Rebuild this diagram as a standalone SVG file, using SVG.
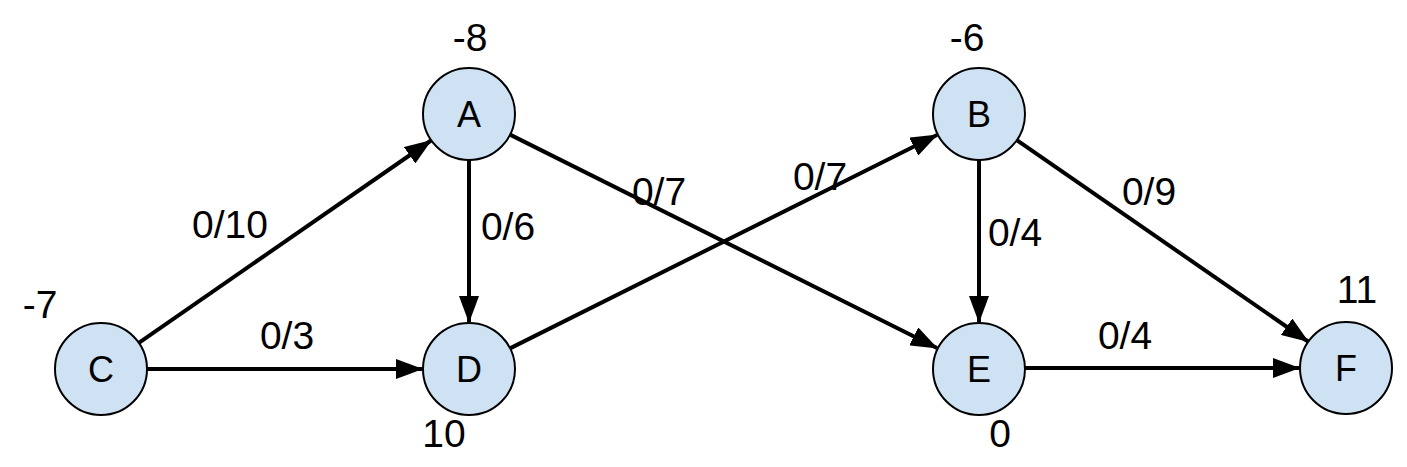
<svg xmlns="http://www.w3.org/2000/svg" width="1407" height="467" viewBox="0 0 1407 467">
<style>
.node circle{fill:#cfe2f3;stroke:#000;stroke-width:2}
.nl,.lbl{font-family:"Liberation Sans",Arial,sans-serif;fill:#000;text-anchor:middle}
.nl{font-size:36px}
.lbl{font-size:39px}
.edges line{stroke:#000;stroke-width:4;marker-end:url(#arr)}
</style>
<defs>
<marker id="arr" markerUnits="userSpaceOnUse" markerWidth="27" markerHeight="20" refX="26" refY="10" orient="auto">
<path d="M0,0 L27,10 L0,20 z" fill="#000"/>
</marker>
</defs>
<rect width="1407" height="467" fill="#fff"/>
<g class="edges" id="connectors">
<line x1="138.8" y1="342.8" x2="431" y2="140.5"/>
<line x1="147" y1="369" x2="422" y2="369"/>
<line x1="469" y1="160" x2="469" y2="322"/>
<line x1="510" y1="134.6" x2="937" y2="348"/>
<line x1="510" y1="348.4" x2="937" y2="135"/>
<line x1="979" y1="160" x2="979" y2="322"/>
<line x1="1016.8" y1="140.2" x2="1308" y2="341.5"/>
<line x1="1025" y1="368" x2="1299" y2="368"/>
</g>
<g id="edge-labels">
<text class="lbl" x="230" y="238">0/10</text>
<text class="lbl" x="287" y="349">0/3</text>
<text class="lbl" x="508" y="240">0/6</text>
<text class="lbl" x="659" y="205">0/7</text>
<text class="lbl" x="820" y="190">0/7</text>
<text class="lbl" x="1015" y="246">0/4</text>
<text class="lbl" x="1149" y="205">0/9</text>
<text class="lbl" x="1125" y="349">0/4</text>
</g>
<g class="node" id="node-A"><circle cx="469" cy="114" r="46"/><text class="nl" x="469" y="127">A</text><text class="lbl" x="470" y="51">-8</text></g>
<g class="node" id="node-B"><circle cx="979" cy="114" r="46"/><text class="nl" x="979" y="127">B</text><text class="lbl" x="967" y="51">-6</text></g>
<g class="node" id="node-C"><circle cx="101" cy="369" r="46"/><text class="nl" x="101" y="382">C</text><text class="lbl" x="40" y="318">-7</text></g>
<g class="node" id="node-D"><circle cx="469" cy="369" r="46"/><text class="nl" x="469" y="382">D</text><text class="lbl" x="444" y="447">10</text></g>
<g class="node" id="node-E"><circle cx="979" cy="369" r="46"/><text class="nl" x="979" y="382">E</text><text class="lbl" x="1000" y="447">0</text></g>
<g class="node" id="node-F"><circle cx="1346" cy="368" r="46"/><text class="nl" x="1346" y="381">F</text><text class="lbl" x="1357" y="303">11</text></g>
</svg>
